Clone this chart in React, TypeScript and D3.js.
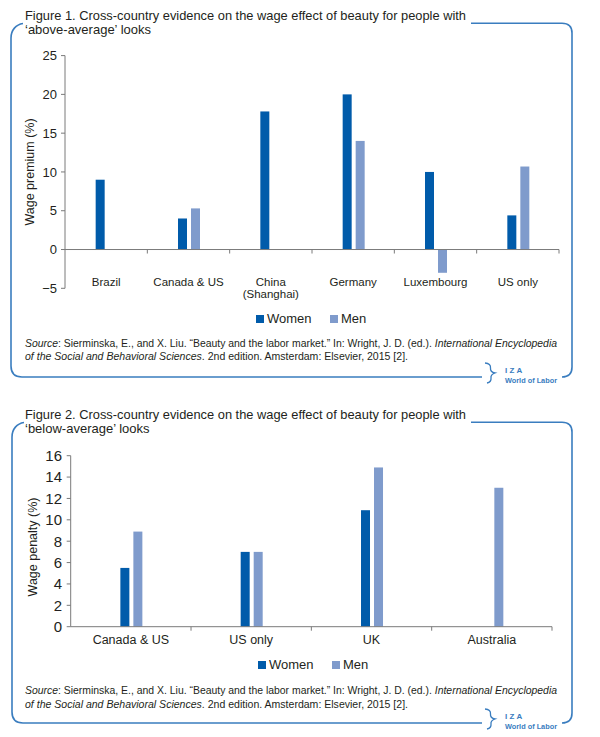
import * as d3 from 'd3';

// Figure 1 — above-average looks (wage premium, %)
const fig1Categories = ['Brazil', 'Canada & US', 'China|(Shanghai)', 'Germany', 'Luxembourg', 'US only'];
const fig1Women = [9, 4, 17.8, 20, 10, 4.4];
const fig1Men: (number | null)[] = [null, 5.3, null, 14, -3, 10.7];
const fig1Ticks = [-5, 0, 5, 10, 15, 20, 25];

// Figure 2 — below-average looks (wage penalty, %)
const fig2Categories = ['Canada & US', 'US only', 'UK', 'Australia'];
const fig2Women: (number | null)[] = [5.5, 7, 10.9, null];
const fig2Men = [8.9, 7, 14.9, 13];
const fig2Ticks = [0, 2, 4, 6, 8, 10, 12, 14, 16];

const seriesNames = ['Women', 'Men'];
const seriesColors = ['#005baa', '#7f9bcc'];

const sourceLine1 = ['Source', ': Sierminska, E., and X. Liu. \u201cBeauty and the labor market.\u201d In: Wright, J. D. (ed.). ', 'International Encyclopedia'];
const sourceLine2 = ['of the Social and Behavioral Sciences', '. 2nd edition. Amsterdam: Elsevier, 2015 [2].'];

const FONT = '"Liberation Sans", Arial, sans-serif';
const TEXT = '#231f20';
const AXIS = '#7a7a7a';
const FRAME = '#3a7dbf';

interface PanelProps {
  top: number;
  left: number;
  titleNo: number;
  titleTail: string;
  yLabel: string;
  categories: string[];
  women: (number | null)[];
  men: (number | null)[];
  ticks: number[];
  plot: { x0: number; x1: number; yTop: number; yBottom: number };
  tickFont: number;
  catFont: number;
  catBaseline: number;
  yLabelX: number;
  yLabelY: number;
  tickLabelX: number;
  legendY: number;
  sourceY: number;
  bottom: number;
}

function Panel(p: PanelProps) {
  const y = d3.scaleLinear()
    .domain([p.ticks[0], p.ticks[p.ticks.length - 1]])
    .range([p.plot.yBottom, p.plot.yTop]);
  const x = d3.scaleBand<string>()
    .domain(p.categories)
    .range([p.plot.x0, p.plot.x1]);
  const inner = d3.scaleBand<string>()
    .domain(seriesNames)
    .range([-10.5, 11.5])
    .paddingInner(0.3077);
  const y0 = y(0);
  const step = x.step();
  const t = p.top;
  const L = p.left;
  const R = 572;
  const B = p.bottom;

  const framePath = `M${L + 12},${t + 23.5} C${L + 5},${t + 24.5} ${L},${t + 30} ${L},${t + 38} L${L},${B - 11} Q${L},${B} ${L + 11},${B} L482,${B}`;
  const frameRight = `M471,${t + 23.3} L562,${t + 23.3} Q${R},${t + 23.3} ${R},${t + 33} L${R},${B - 10} Q${R},${B} 562,${B}`;

  const bars: { cat: string; s: number; v: number }[] = [];
  p.categories.forEach((c, i) => {
    if (p.women[i] != null) bars.push({ cat: c, s: 0, v: p.women[i] as number });
    if (p.men[i] != null) bars.push({ cat: c, s: 1, v: p.men[i] as number });
  });

  return (
    <g>
      {/* title */}
      <text x={25} y={t + 19.5} fontSize={13} fill={TEXT} fontFamily={FONT} textLength={441} lengthAdjust="spacingAndGlyphs">
        {`Figure ${p.titleNo}. Cross-country evidence on the wage effect of beauty for people with`}
      </text>
      <text x={25} y={t + 33.5} fontSize={13} fill={TEXT} fontFamily={FONT}>{p.titleTail}</text>

      {/* frame */}
      <path d={framePath} fill="none" stroke={FRAME} strokeWidth={1.6} />
      <path d={frameRight} fill="none" stroke={FRAME} strokeWidth={1.6} />

      {/* IZA logo */}
      <path d={`M485,${B - 14} Q491,${B - 13.5} 490.5,${B - 9} Q490,${B - 5} 495,${B - 4} Q490.5,${B - 2.5} 491,${B + 1} Q491.5,${B + 5} 487,${B + 6}`}
        fill="none" stroke={FRAME} strokeWidth={1.3} />
      <text x={505} y={B - 4} fontSize={8} fontWeight="bold" fill={FRAME} fontFamily={FONT} letterSpacing={2.2}>IZA</text>
      <text x={505} y={B + 6.3} fontSize={7.6} fontWeight="bold" fill={FRAME} fontFamily={FONT} textLength={52} lengthAdjust="spacingAndGlyphs">World of Labor</text>

      {/* y axis */}
      <line x1={p.plot.x0} x2={p.plot.x0} y1={p.plot.yTop} y2={p.plot.yBottom} stroke={AXIS} />
      {p.ticks.map(v => (
        <g key={v}>
          <line x1={p.plot.x0 - 4} x2={p.plot.x0} y1={y(v)} y2={y(v)} stroke={AXIS} />
          <text x={p.tickLabelX} y={y(v)} dy="0.36em" textAnchor="end" fontSize={p.tickFont} fill={TEXT} fontFamily={FONT}>
            {v < 0 ? `\u2212${Math.abs(v)}` : v}
          </text>
        </g>
      ))}
      <text transform={`translate(${p.yLabelX},${p.yLabelY}) rotate(-90)`} textAnchor="middle" fontSize={12.5} fill={TEXT} fontFamily={FONT}>
        {p.yLabel}
      </text>

      {/* bars */}
      {bars.map(b => (
        <rect key={b.cat + b.s}
          x={(x(b.cat) as number) + step / 2 + (inner(seriesNames[b.s]) as number)}
          width={inner.bandwidth()}
          y={Math.min(y(b.v), y0)}
          height={Math.abs(y(b.v) - y0)}
          fill={seriesColors[b.s]} />
      ))}

      {/* x axis */}
      <line x1={p.plot.x0} x2={p.plot.x1} y1={y0} y2={y0} stroke={AXIS} />
      {p.categories.map(c => (
        <line key={c} x1={(x(c) as number) + step} x2={(x(c) as number) + step} y1={y0} y2={y0 + 4} stroke={AXIS} />
      ))}
      {p.categories.map(c => (
        <text key={c} x={(x(c) as number) + step / 2} y={p.catBaseline} textAnchor="middle" fontSize={p.catFont} fill={TEXT} fontFamily={FONT}>
          {c.split('|').map((line, i) => (
            <tspan key={i} x={(x(c) as number) + step / 2} dy={i === 0 ? 0 : 12.5}>{line}</tspan>
          ))}
        </text>
      ))}

      {/* legend */}
      {seriesNames.map((s, i) => (
        <g key={s} transform={`translate(${256 + i * 74 + (p.titleNo - 1) * 2},${p.legendY})`}>
          <rect x={0} y={-8} width={8} height={8} fill={seriesColors[i]} />
          <text x={11} y={0} fontSize={13} fill={TEXT} fontFamily={FONT}>{s}</text>
        </g>
      ))}

      {/* source */}
      <text x={25} y={p.sourceY} fontSize={10.4} fill={TEXT} fontFamily={FONT} textLength={532} lengthAdjust="spacingAndGlyphs">
        <tspan fontStyle="italic">{sourceLine1[0]}</tspan>
        <tspan>{sourceLine1[1]}</tspan>
        <tspan fontStyle="italic">{sourceLine1[2]}</tspan>
      </text>
      <text x={25} y={p.sourceY + 13.5} fontSize={10.4} fill={TEXT} fontFamily={FONT} textLength={383} lengthAdjust="spacingAndGlyphs">
        <tspan fontStyle="italic">{sourceLine2[0]}</tspan>
        <tspan>{sourceLine2[1]}</tspan>
      </text>
    </g>
  );
}

export default function App() {
  return (
    <svg width={600} height={737} viewBox="0 0 600 737"
      style={{ position: 'absolute', left: 0, top: 0, background: '#fff' }}>
      <rect width={600} height={737} fill="#fff" />
      <Panel
        top={0} left={11} titleNo={1} titleTail={'\u2018above-average\u2019 looks'}
        yLabel="Wage premium (%)"
        categories={fig1Categories} women={fig1Women} men={fig1Men} ticks={fig1Ticks}
        plot={{ x0: 65, x1: 559, yTop: 55.6, yBottom: 288.3 }}
        tickFont={13} catFont={11.5} catBaseline={285.5}
        yLabelX={34} yLabelY={172} tickLabelX={57}
        legendY={323} sourceY={346.5} bottom={377}
      />
      <Panel
        top={399} left={12} titleNo={2} titleTail={'\u2018below-average\u2019 looks'}
        yLabel="Wage penalty (%)"
        categories={fig2Categories} women={fig2Women} men={fig2Men} ticks={fig2Ticks}
        plot={{ x0: 70.7, x1: 552, yTop: 455.7, yBottom: 626.7 }}
        tickFont={15} catFont={12.5} catBaseline={644}
        yLabelX={37} yLabelY={547} tickLabelX={62}
        legendY={669} sourceY={694} bottom={723}
      />
    </svg>
  );
}
